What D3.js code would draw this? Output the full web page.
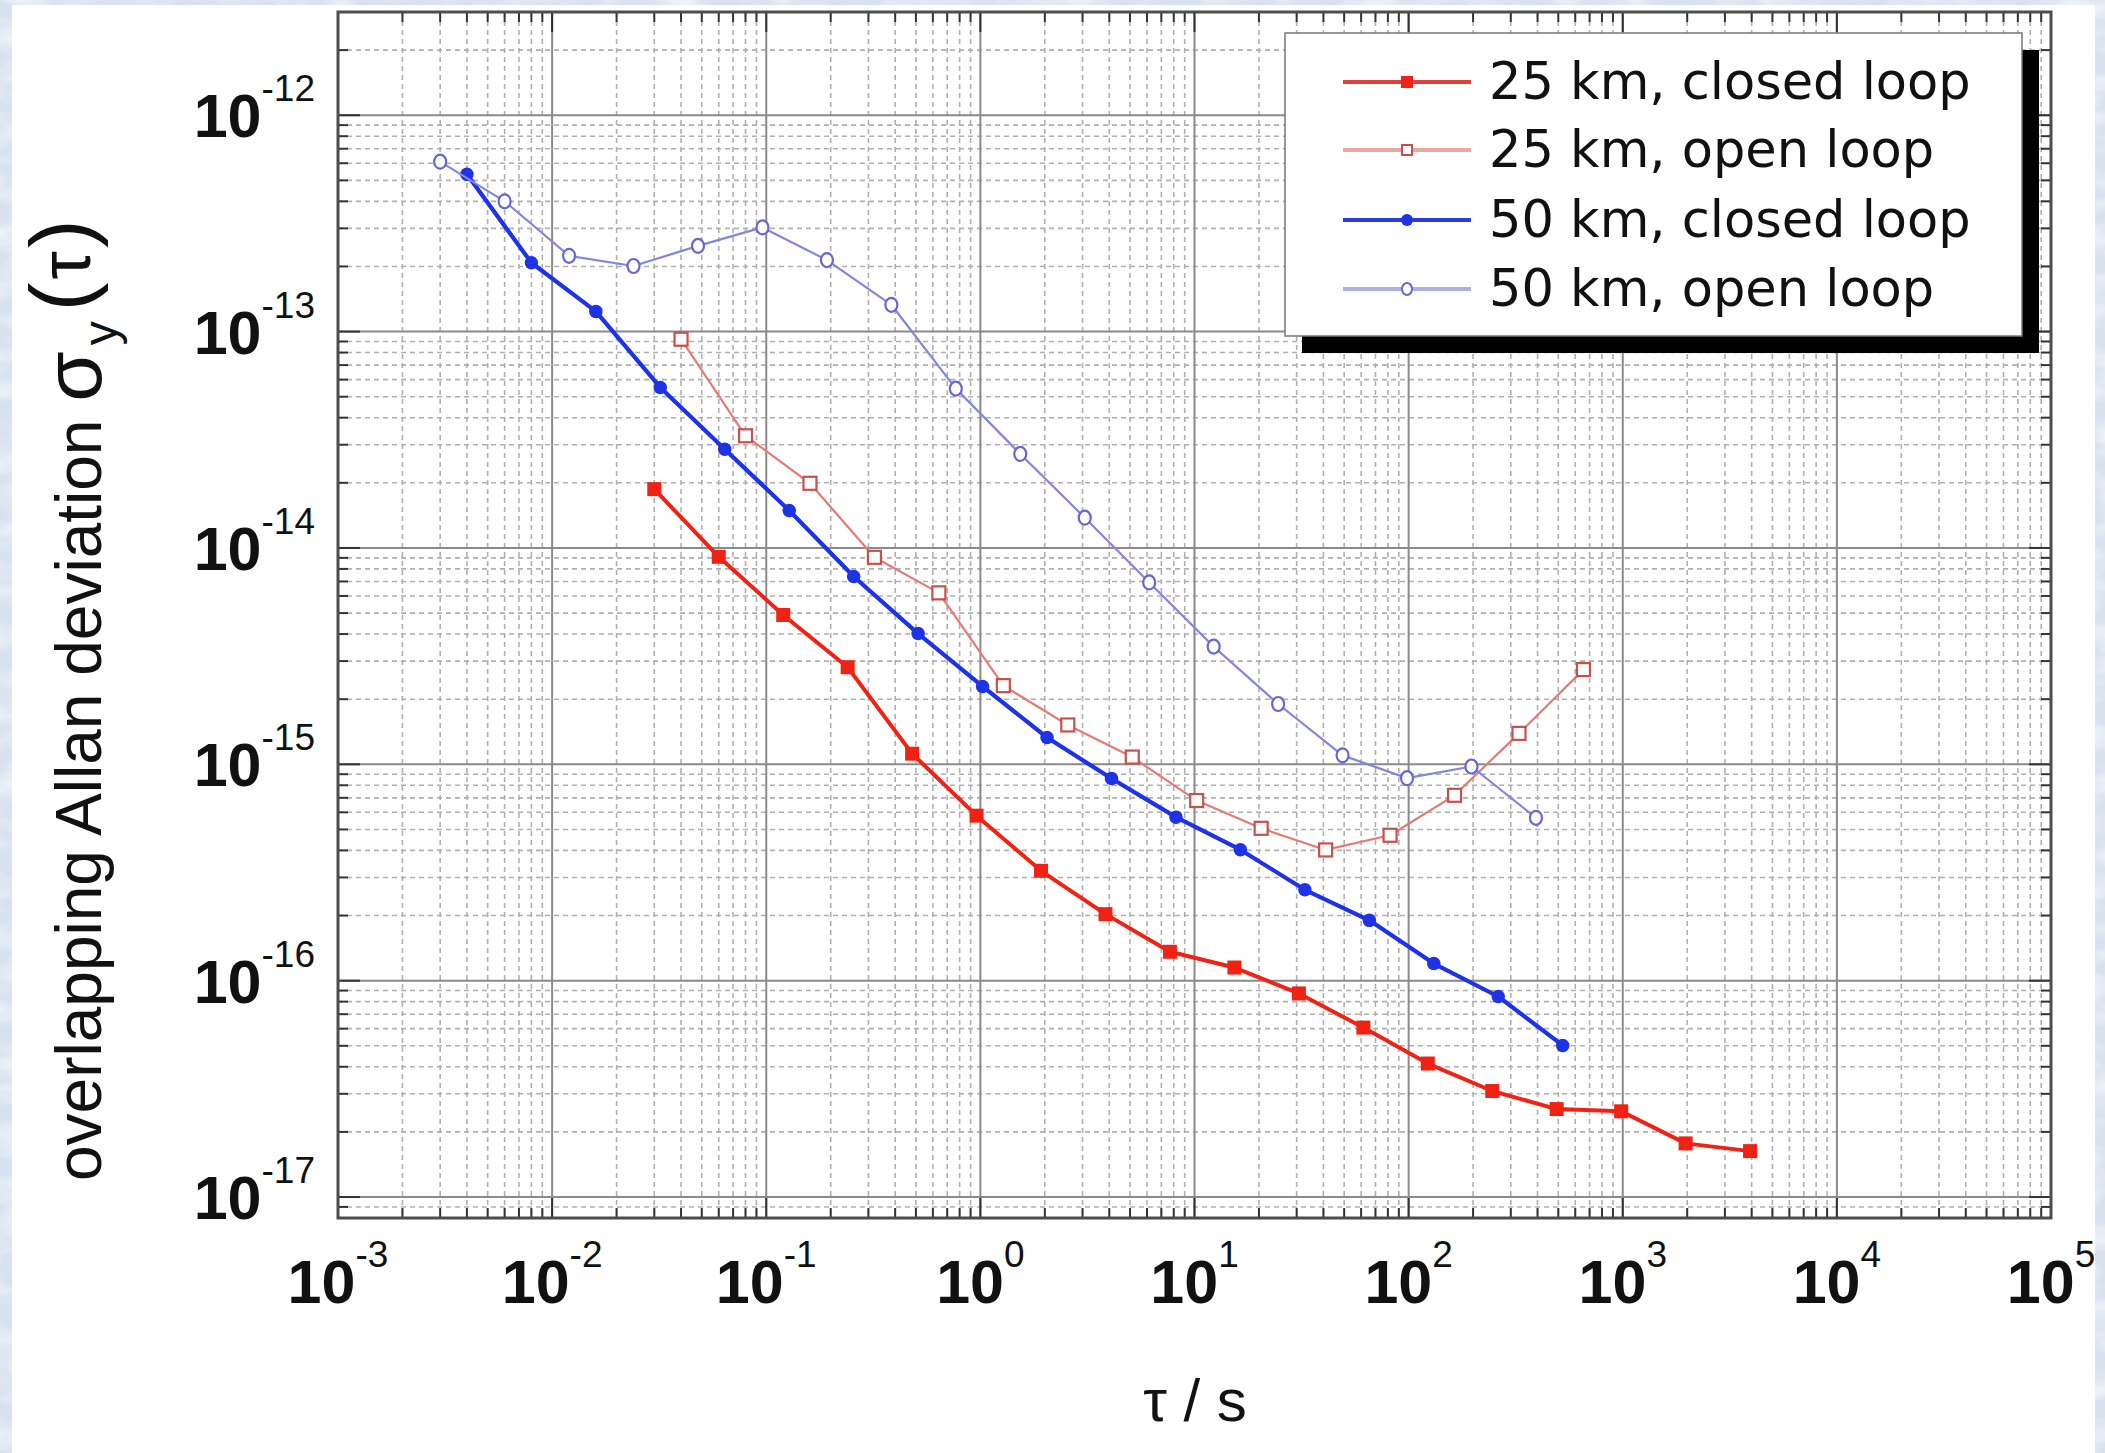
<!DOCTYPE html>
<html>
<head>
<meta charset="utf-8">
<script src="https://cdn.jsdelivr.net/npm/d3@7"></script>
<style>
  html, body { margin: 0; padding: 0; background: #d9e2f0; }
  svg { display: block; }
</style>
</head>
<body>
<svg id="chart" width="2105" height="1453"></svg>
<script>
// Averaging time tau (s) and overlapping Allan deviation of each fibre link
const tau25Closed = [0.03, 0.06, 0.12, 0.24, 0.48, 0.96, 1.92, 3.84, 7.68, 15.36, 30.72, 61.44, 122.9, 245.8, 491.5, 983, 1966, 3932];
const adev25Closed = [1.87e-14, 9.1e-15, 4.9e-15, 2.81e-15, 1.12e-15, 5.79e-16, 3.22e-16, 2.03e-16, 1.36e-16, 1.15e-16, 8.73e-17, 6.07e-17, 4.14e-17, 3.09e-17, 2.55e-17, 2.49e-17, 1.77e-17, 1.63e-17];

const tau25Open = [0.04, 0.08, 0.16, 0.32, 0.64, 1.28, 2.56, 5.12, 10.24, 20.48, 40.96, 81.92, 163.8, 327.7, 655.4];
const adev25Open = [9.22e-14, 3.30e-14, 1.99e-14, 9.05e-15, 6.2e-15, 2.31e-15, 1.52e-15, 1.08e-15, 6.8e-16, 5.06e-16, 4.02e-16, 4.70e-16, 7.19e-16, 1.39e-15, 2.74e-15];

const tau50Closed = [0.004, 0.008, 0.016, 0.032, 0.064, 0.128, 0.256, 0.512, 1.024, 2.048, 4.096, 8.192, 16.38, 32.77, 65.54, 131.1, 262.1, 524.3];
const adev50Closed = [5.34e-13, 2.08e-13, 1.24e-13, 5.52e-14, 2.86e-14, 1.49e-14, 7.38e-15, 4.02e-15, 2.29e-15, 1.33e-15, 8.6e-16, 5.7e-16, 4.03e-16, 2.63e-16, 1.90e-16, 1.20e-16, 8.45e-17, 5.02e-17];

const tau50Open = [0.003, 0.006, 0.012, 0.024, 0.048, 0.096, 0.192, 0.384, 0.768, 1.536, 3.072, 6.144, 12.29, 24.58, 49.15, 98.3, 196.6, 393.2];
const adev50Open = [6.1e-13, 4.0e-13, 2.24e-13, 2.01e-13, 2.49e-13, 3.03e-13, 2.14e-13, 1.33e-13, 5.45e-14, 2.72e-14, 1.38e-14, 6.93e-15, 3.5e-15, 1.9e-15, 1.1e-15, 8.63e-16, 9.77e-16, 5.66e-16];

const seriesNames = ["25 km, closed loop", "25 km, open loop", "50 km, closed loop", "50 km, open loop"];
const xTickExponents = [-3, -2, -1, 0, 1, 2, 3, 4, 5];
const yTickExponents = [-12, -13, -14, -15, -16, -17];
const xDomain = [1e-3, 1e5];
const yDomain = [8e-18, 3e-12];
const yTitleText = "overlapping Allan deviation ";
const xTitleText = "τ / s";

// ---------------------------------------------------------------------------
const W = 2105, H = 1453;
const P = { left: 338, right: 2051, top: 12, bottom: 1218 };
const SHEET = { x: 12, y: 5, w: 2083, h: H - 5 };
const svg = d3.select("#chart");
const defs = svg.append("defs");

// mottled blue backdrop behind the white sheet
const mottle = defs.append("filter").attr("id", "mottle")
  .attr("x", 0).attr("y", 0).attr("width", "100%").attr("height", "100%");
mottle.append("feTurbulence").attr("type", "fractalNoise")
  .attr("baseFrequency", "0.02 0.04").attr("numOctaves", 3).attr("seed", 7).attr("result", "n");
mottle.append("feColorMatrix").attr("in", "n").attr("type", "matrix")
  .attr("values", "0 0 0 0 1  0 0 0 0 1  0 0 0 0 1  0 0 0 1.4 -0.55");
svg.append("rect").attr("width", W).attr("height", H).attr("fill", "#d8e1ef");
svg.append("rect").attr("width", W).attr("height", H).attr("filter", "url(#mottle)");
svg.append("rect").attr("x", SHEET.x).attr("y", SHEET.y).attr("width", SHEET.w).attr("height", SHEET.h).attr("fill", "#ffffff");

defs.append("clipPath").attr("id", "sheetClip").append("rect")
  .attr("x", SHEET.x).attr("y", SHEET.y).attr("width", SHEET.w).attr("height", SHEET.h);
defs.append("clipPath").attr("id", "plotClip").append("rect")
  .attr("x", P.left).attr("y", P.top)
  .attr("width", P.right - P.left).attr("height", P.bottom - P.top);

const root = svg.append("g").attr("clip-path", "url(#sheetClip)");

const x = d3.scaleLog().domain(xDomain).range([P.left, P.right]);
const y = d3.scaleLog().domain(yDomain).range([P.bottom, P.top]);

// decade and sub-decade positions
const xMajor = xTickExponents.map(e => Math.pow(10, e));
const yMajor = yTickExponents.map(e => Math.pow(10, e));
const xMinor = [];
for (let e = -3; e < 5; e++) for (let m = 2; m <= 9; m++) xMinor.push(m * Math.pow(10, e));
const yMinor = [];
for (let e = -18; e <= -12; e++) for (let m = 2; m <= 9; m++) {
  const v = m * Math.pow(10, e);
  if (v > yDomain[0] * 1.01 && v < yDomain[1] * 0.99) yMinor.push(v);
}

// minor grid (dashed)
const grid = root.append("g");
grid.selectAll("line.xm").data(xMinor).join("line")
  .attr("x1", d => x(d)).attr("x2", d => x(d)).attr("y1", P.top).attr("y2", P.bottom)
  .attr("stroke", "#b0b0b0").attr("stroke-width", 1.6).attr("stroke-dasharray", "5,4");
grid.selectAll("line.ym").data(yMinor).join("line")
  .attr("y1", d => y(d)).attr("y2", d => y(d)).attr("x1", P.left).attr("x2", P.right)
  .attr("stroke", "#b0b0b0").attr("stroke-width", 1.6).attr("stroke-dasharray", "5,4");
// major grid (solid)
root.append("g").selectAll("line").data(xMajor).join("line")
  .attr("x1", d => x(d)).attr("x2", d => x(d)).attr("y1", P.top).attr("y2", P.bottom)
  .attr("stroke", "#8a8a8a").attr("stroke-width", 2);
root.append("g").selectAll("line").data(yMajor).join("line")
  .attr("y1", d => y(d)).attr("y2", d => y(d)).attr("x1", P.left).attr("x2", P.right)
  .attr("stroke", "#8a8a8a").attr("stroke-width", 2);

// tick marks on all four sides
const ticks = root.append("g").attr("stroke", "#333").attr("stroke-width", 2);
function vTicks(vals, len) {
  vals.forEach(v => {
    ticks.append("line").attr("x1", x(v)).attr("x2", x(v)).attr("y1", P.bottom).attr("y2", P.bottom - len);
    ticks.append("line").attr("x1", x(v)).attr("x2", x(v)).attr("y1", P.top).attr("y2", P.top + len);
  });
}
function hTicks(vals, len) {
  vals.forEach(v => {
    ticks.append("line").attr("y1", y(v)).attr("y2", y(v)).attr("x1", P.left).attr("x2", P.left + len);
    ticks.append("line").attr("y1", y(v)).attr("y2", y(v)).attr("x1", P.right).attr("x2", P.right - len);
  });
}
vTicks(xMajor, 20); vTicks(xMinor, 10);
hTicks(yMajor, 22); hTicks(yMinor, 10);

// frame
root.append("rect").attr("x", P.left).attr("y", P.top)
  .attr("width", P.right - P.left).attr("height", P.bottom - P.top)
  .attr("fill", "none").attr("stroke", "#4d4d4d").attr("stroke-width", 3);

// series
const series = [
  { name: seriesNames[0], tau: tau25Closed, adev: adev25Closed, line: "#ef2214", lw: 4, marker: "square", fill: "#ef2214", stroke: "#ef2214", size: 14 },
  { name: seriesNames[1], tau: tau25Open, adev: adev25Open, line: "#e57a76", lw: 2.2, marker: "square", fill: "#ffffff", stroke: "#c8504c", size: 15 },
  { name: seriesNames[2], tau: tau50Closed, adev: adev50Closed, line: "#1e32e6", lw: 4.2, marker: "circle", fill: "#1e32e6", stroke: "#1e32e6", size: 13.5 },
  { name: seriesNames[3], tau: tau50Open, adev: adev50Open, line: "#8287dc", lw: 2.2, marker: "circle", fill: "#ffffff", stroke: "#6569cf", size: 14 }
];

const plot = root.append("g").attr("clip-path", "url(#plotClip)");
const lineGen = d3.line().x(d => x(d[0])).y(d => y(d[1]));

function drawMarker(g, type, cx, cy, s, fill, stroke, sw) {
  if (type === "square") {
    g.append("rect").attr("x", cx - s / 2).attr("y", cy - s / 2).attr("width", s).attr("height", s)
      .attr("fill", fill).attr("stroke", stroke).attr("stroke-width", sw);
  } else {
    g.append("ellipse").attr("cx", cx).attr("cy", cy).attr("rx", s / 2).attr("ry", s / 2 + (fill === "#ffffff" ? 1 : 0))
      .attr("fill", fill).attr("stroke", stroke).attr("stroke-width", sw);
  }
}

series.forEach(s => {
  const pts = s.tau.map((t, i) => [t, s.adev[i]]);
  const g = plot.append("g");
  g.append("path").attr("d", lineGen(pts)).attr("fill", "none")
    .attr("stroke", s.line).attr("stroke-width", s.lw).attr("stroke-linejoin", "round");
  pts.forEach(p => {
    const open = s.fill === "#ffffff";
    drawMarker(g, s.marker, x(p[0]), y(p[1]), open ? s.size - 2 : s.size, s.fill, s.stroke, open ? 2.2 : 0);
  });
});

// tick labels: bold mantissa with a raised exponent
const labelFont = "'Liberation Sans', Arial, Helvetica, sans-serif";
function powerLabel(t, e) {
  t.append("tspan").attr("font-size", 61).attr("font-weight", "bold").text("10");
  t.append("tspan").attr("font-size", 37).attr("dy", -36).text(String(e));
}
xTickExponents.forEach(e => {
  const t = root.append("text").attr("x", x(Math.pow(10, e))).attr("y", 1303)
    .attr("text-anchor", "middle").attr("font-family", labelFont).attr("fill", "#111");
  powerLabel(t, e);
});
yTickExponents.forEach(e => {
  const t = root.append("text").attr("x", 315).attr("y", y(Math.pow(10, e)) + 22)
    .attr("text-anchor", "end").attr("font-family", labelFont).attr("fill", "#111");
  powerLabel(t, e);
});

// axis titles
const yt = root.append("text").attr("transform", "translate(101,1181) rotate(-90)")
  .attr("font-family", labelFont).attr("font-size", 64).attr("fill", "#111");
yt.append("tspan").text(yTitleText);
yt.append("tspan").attr("font-size", 82).text("σ");
yt.append("tspan").attr("font-size", 48).attr("dy", 16).attr("dx", 6).text("y");
yt.append("tspan").attr("font-size", 86).attr("dy", -27).attr("dx", 10).text("(");
yt.append("tspan").attr("font-size", 72).attr("dx", 3).text("τ");
yt.append("tspan").attr("font-size", 86).attr("dx", 3).text(")");

root.append("text").attr("x", 1195).attr("y", 1421).attr("text-anchor", "middle")
  .attr("font-family", labelFont).attr("font-size", 60).attr("fill", "#111").text(xTitleText);

// legend with drop shadow
const L = { x0: 1285, y0: 33, x1: 2022, y1: 336, off: 17 };
root.append("rect").attr("x", L.x0 + L.off).attr("y", L.y0 + L.off)
  .attr("width", L.x1 - L.x0).attr("height", L.y1 - L.y0).attr("fill", "#000");
root.append("rect").attr("x", L.x0).attr("y", L.y0)
  .attr("width", L.x1 - L.x0).attr("height", L.y1 - L.y0)
  .attr("fill", "#fff").attr("stroke", "#777").attr("stroke-width", 1.5);
const rowsY = [82, 150, 220, 289];
const legendLine = ["#e0423a", "#e9a8a6", "#2a3cd8", "#aeb0e4"];
series.forEach((s, i) => {
  const g = root.append("g");
  const ry = rowsY[i];
  g.append("line").attr("x1", 1343).attr("x2", 1471).attr("y1", ry).attr("y2", ry)
    .attr("stroke", legendLine[i]).attr("stroke-width", 4);
  const open = s.fill === "#ffffff";
  drawMarker(g, s.marker, 1407, ry, open ? 10 : 12, s.fill, s.stroke, open ? 2 : 0);
  g.append("text").attr("x", 1489).attr("y", ry + 17)
    .attr("font-family", "'DejaVu Sans', Verdana, sans-serif").attr("font-size", 51)
    .attr("fill", "#111").text(s.name);
});
</script>
</body>
</html>
